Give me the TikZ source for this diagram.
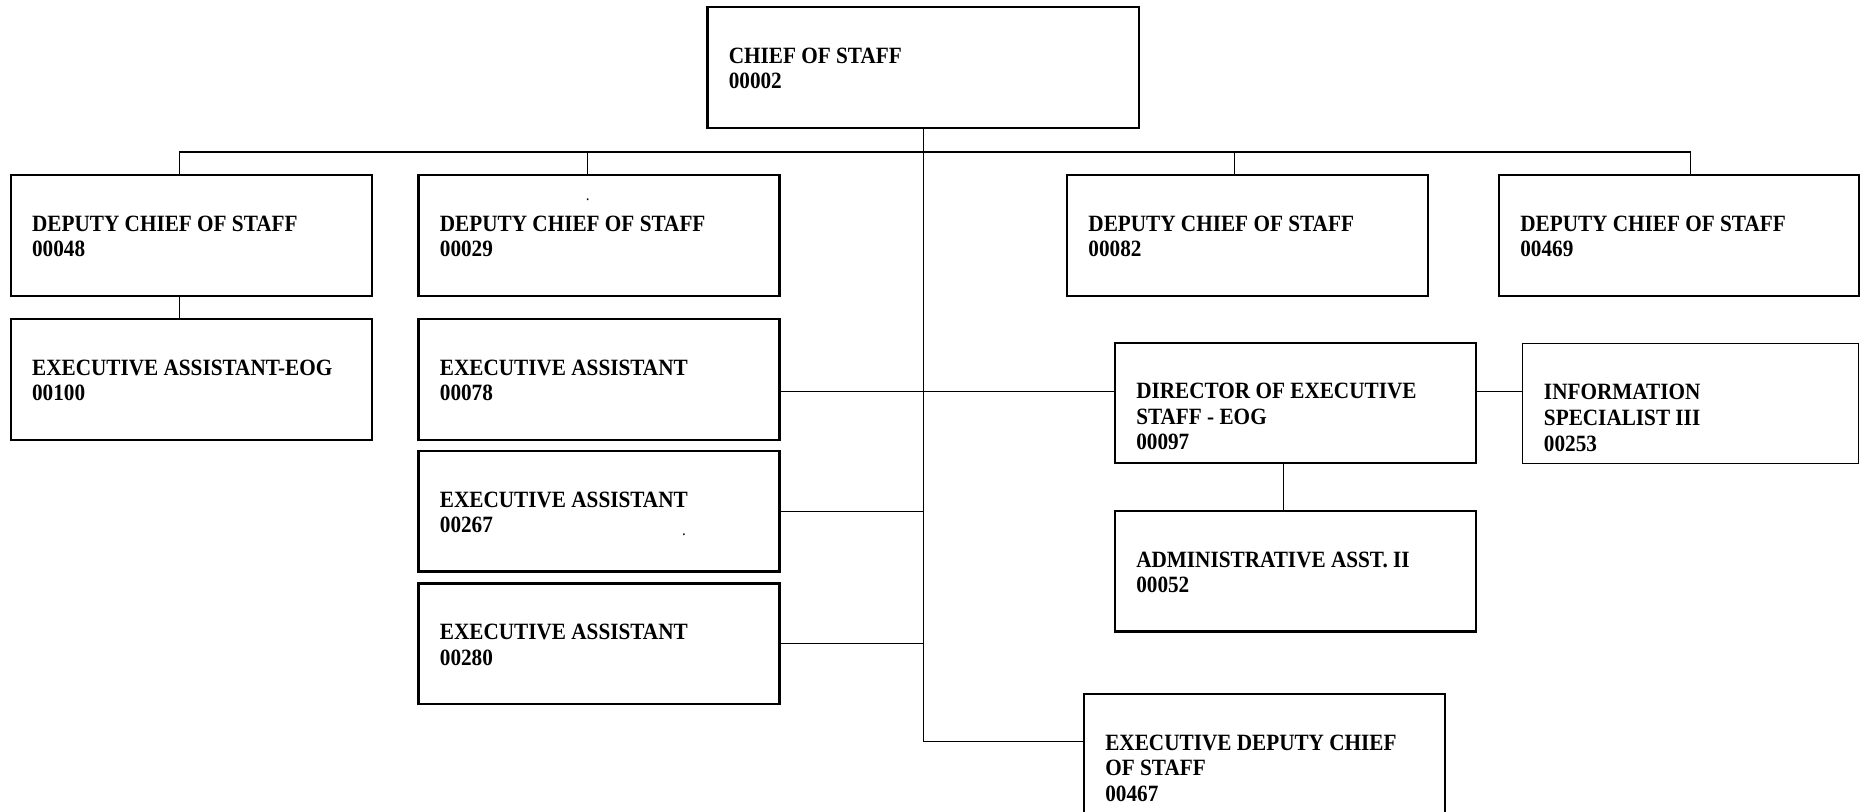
\documentclass[tikz,border=0pt]{standalone}
\usepackage{fontspec}
\setmainfont{Liberation Serif}[FakeStretch=0.91]
\begin{document}
\begin{tikzpicture}[x=0.5pt,y=-0.5pt,
  post/.style={draw, line width=0.95pt, outer sep=0pt, inner sep=0pt,
    minimum width=151.6pt, minimum height=50.6pt},
  title/.style={anchor=base west, align=left, inner sep=0pt,
    font=\bfseries\fontsize{9.8}{10.75}\selectfont},
  speck/.style={anchor=base, inner sep=0pt, font=\fontsize{7}{8}\selectfont},
  link/.style={line width=0.5pt}]
\useasboundingbox (0,0) rectangle (1568,682);

% position boxes
\node[post, minimum width=181.3pt] (cos) at (775.8,56.75) {};
\node[post] (d48)  at (160.7,197.85) {};
\node[post] (d29)  at (503.35,197.85) {};
\node[post] (d82)  at (1048.3,197.85) {};
\node[post, minimum width=151.2pt] (d469) at (1410.8,197.85) {};
\node[post] (ea100) at (160.7,318.85) {};
\node[post] (ea78)  at (503.35,318.85) {};
\node[post] (ea267) at (503.35,429.7) {};
\node[post] (ea280) at (503.35,540.9) {};
\node[post] (dir)   at (1088.5,338.65) {};
\node[post, line width=0.5pt, minimum width=141.25pt] (info) at (1420.75,339.2) {};
\node[post] (admin) at (1088.5,480.1) {};
\node[post, minimum height=52pt] (edc) at (1062.5,635.3) {};

% titles and position numbers (anchored on the baseline of the last line)
\node[title] (cos-t)   at ([shift={(17.5,68.5)}]cos.north west)   {CHIEF OF STAFF\\00002};
\node[title] (d48-t)   at ([shift={(17.5,68.5)}]d48.north west)   {DEPUTY CHIEF OF STAFF\\00048};
\node[title] (d29-t)   at ([shift={(17.5,68.5)}]d29.north west)   {DEPUTY CHIEF OF STAFF\\00029};
\node[title] (d82-t)   at ([shift={(17.5,68.5)}]d82.north west)   {DEPUTY CHIEF OF STAFF\\00082};
\node[title] (d469-t)  at ([shift={(17.5,68.5)}]d469.north west)  {DEPUTY CHIEF OF STAFF\\00469};
\node[title] (ea100-t) at ([shift={(17.5,68.5)}]ea100.north west) {EXECUTIVE ASSISTANT-EOG\\00100};
\node[title] (ea78-t)  at ([shift={(17.5,68.5)}]ea78.north west)  {EXECUTIVE ASSISTANT\\00078};
\node[title] (ea267-t) at ([shift={(17.5,68.5)}]ea267.north west) {EXECUTIVE ASSISTANT\\00267};
\node[title] (ea280-t) at ([shift={(17.5,68.5)}]ea280.north west) {EXECUTIVE ASSISTANT\\00280};
\node[title] (dir-t)   at ([shift={(17.5,90)}]dir.north west)     {DIRECTOR OF EXECUTIVE\\STAFF - EOG\\00097};
\node[title] (info-t)  at ([shift={(17.5,90.5)}]info.north west)  {INFORMATION\\SPECIALIST III\\00253};
\node[title] (admin-t) at ([shift={(17.5,68.5)}]admin.north west) {ADMINISTRATIVE ASST. II\\00052};
\node[title] (edc-t)   at ([shift={(17.5,90)}]edc.north west)     {EXECUTIVE DEPUTY CHIEF\\OF STAFF\\00467};

% stray periods inside two boxes
\node[speck] (d29-dot)   at ([shift={(-9.5,-29.5)}]d29.center)   {.};
\node[speck] (ea267-dot) at ([shift={(71.5,20.5)}]ea267.center) {.};

% reporting lines
\draw[link] (cos.south) |- ([yshift=6pt]edc.west);
\draw[link] ([xshift=-5pt]d48.north) -- ++(0,-19.5) -| ([xshift=5pt]d469.north);
\draw[link] ([xshift=-5pt]d29.north) -- ++(0,-19.5);
\draw[link] ([xshift=-5.4pt]d82.north) -- ++(0,-19.5);
\draw[link] ([xshift=-5pt]d48.south) -- ([xshift=-5pt]ea100.north);
\draw[link] ([yshift=5pt]dir.west) -- ([yshift=5pt]dir.west -| ea78.east);
\draw[link] (ea267.east) -- (ea267.east -| cos.south);
\draw[link] (ea280.east) -- (ea280.east -| cos.south);
\draw[link] ([yshift=5pt]dir.east) -- ([yshift=5pt]dir.east -| info.west);
\draw[link] ([xshift=-5pt]dir.south) -- ([xshift=-5pt]admin.north);
\end{tikzpicture}
\end{document}
